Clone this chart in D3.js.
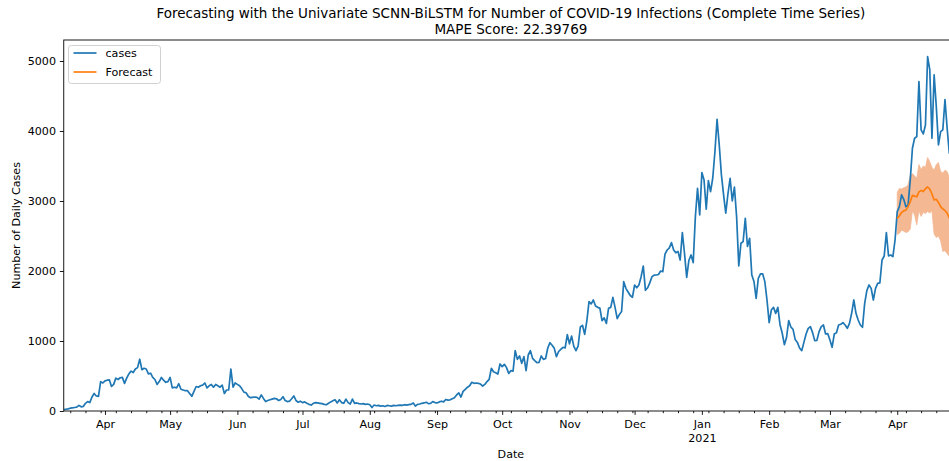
<!DOCTYPE html>
<html>
<head>
<meta charset="utf-8">
<script src="https://cdn.jsdelivr.net/npm/d3@7"></script>
<style>
  body { margin: 0; background: #fff; }
  svg text { font-family: "DejaVu Sans", sans-serif; fill: #000; }
</style>
</head>
<body>
<svg id="chart" width="949" height="461"></svg>
<script>
// ---- data -------------------------------------------------------------
const seriesStart = "2020-03-13";   // first day of the daily series
const seriesEnd = "2021-04-29";     // last day on the time axis

// daily confirmed cases, one value per day starting at seriesStart
const cases = [
  20, 25, 30, 40, 45, 50, 55, 80, 60, 65, 110, 135, 120, 200, 250, 215, 210, 420, 400, 430,
  440, 445, 350, 380, 470, 450, 475, 480, 395, 470, 530, 570, 550, 600, 620, 740, 590, 610, 600, 530,
  540, 480, 450, 380, 420, 480, 440, 410, 420, 480, 330, 340, 330, 390, 310, 300, 290, 290, 250, 210,
  280, 350, 340, 360, 370, 400, 330, 360, 380, 340, 380, 360, 340, 370, 250, 300, 300, 600, 340, 400,
  380, 360, 320, 270, 260, 210, 190, 195, 200, 195, 170, 230, 180, 135, 150, 160, 170, 180, 175, 150,
  165, 205, 150, 135, 140, 175, 215, 150, 125, 140, 120, 130, 110, 95, 85, 110, 120, 115, 110, 105,
  95, 90, 110, 130, 145, 160, 115, 160, 120, 110, 170, 120, 100, 170, 110, 115, 105, 100, 105, 95,
  100, 90, 50, 85, 75, 80, 70, 75, 65, 80, 75, 70, 80, 75, 80, 85, 80, 90, 85, 90,
  95, 115, 70, 95, 100, 110, 115, 125, 105, 110, 135, 120, 115, 130, 140, 130, 165, 155, 160, 175,
  190, 230, 260, 200, 280, 310, 340, 360, 410, 395, 400, 395, 385, 357, 380, 420, 452, 610, 560, 547,
  528, 672, 634, 667, 620, 538, 576, 570, 862, 738, 786, 681, 776, 576, 800, 862, 752, 720, 690, 695,
  786, 738, 750, 900, 976, 940, 895, 776, 850, 880, 910, 900, 1090, 960, 1070, 924, 862, 930, 1200, 1224,
  1095, 1286, 1562, 1530, 1586, 1500, 1481, 1470, 1291, 1330, 1252, 1467, 1480, 1624, 1480, 1319, 1380, 1420, 1848, 1752,
  1700, 1650, 1624, 1800, 1760, 1800, 1919, 2071, 1724, 1760, 1830, 1919, 1940, 1943, 1950, 2000, 1990, 2240, 2300, 2330,
  2405, 2300, 2260, 2280, 2157, 2548, 2250, 1910, 2150, 2229, 2120, 2777, 3182, 2801, 3406, 3300, 2882, 3292, 3134, 3325,
  3700, 4168, 3800, 3373, 3087, 2825, 3100, 3325, 3001, 3197, 2777, 2072, 2396, 2420, 2753, 2350, 2467, 1943, 1850, 1610,
  1896, 1958, 1960, 1848, 1586, 1262, 1443, 1481, 1395, 1480, 1233, 1114, 948, 1050, 1291, 1200, 1167, 1020, 980, 900,
  862, 980, 1100, 1181, 1205, 1120, 1005, 1010, 1134, 1205, 1229, 1100, 1105, 1014, 910, 1100, 1119, 1229, 1240, 1262,
  1229, 1181, 1252, 1396, 1586, 1396, 1300, 1229, 1196, 1538, 1719, 1800, 1752, 1586, 1752, 1824, 1830, 2157, 2214, 2548,
  2214, 2228, 2205, 2443, 2848, 2919, 3087, 3024, 2919, 2943, 3301, 3753, 3896, 3920, 4706, 4015, 3958, 4086, 5063, 4873,
  3896, 4801, 4349, 3801, 3991, 4015, 4450, 4039, 3682, 3750, 3850, 3700, 3650
];

const forecastStart = "2021-04-01";
// model forecast and its uncertainty band, daily from forecastStart
const forecast = [
  2750, 2790, 2835, 2860, 2870, 2920, 2990, 3080, 3070, 3060,
  3130, 3150, 3135, 3175, 3200, 3170, 3100, 3015, 3025, 2980,
  2920, 2885, 2865, 2825, 2760, 2700, 2680, 2660, 2650
];
const forecastUpper = [
  3120, 3180, 3170, 3190, 3200, 3230, 3360, 3390, 3360, 3320,
  3520, 3450, 3500, 3480, 3620, 3560, 3480, 3440, 3520, 3550,
  3420, 3400, 3440, 3420, 3330, 3280, 3250, 3240, 3220
];
const forecastLower = [
  2520, 2540, 2580, 2570, 2550, 2560, 2600, 2860, 2800, 2660,
  2860, 2780, 2840, 2820, 2850, 2830, 2860, 2530, 2480, 2500,
  2430, 2280, 2290, 2250, 2210, 2180, 2160, 2150, 2140
];

const yTicks = [0, 1000, 2000, 3000, 4000, 5000];
const titleLines = [
  "Forecasting with the Univariate SCNN-BiLSTM for Number of COVID-19 Infections (Complete Time Series)",
  "MAPE Score: 22.39769"
];
const legendLabels = ["cases", "Forecast"];
const xLabel = "Date";
const yLabel = "Number of Daily Cases";

// ---- layout -----------------------------------------------------------
const plot = { left: 63.75, right: 958, top: 40, bottom: 411 };
const colors = { cases: "#1f77b4", forecast: "#ff7f0e", band: "#f4b893" };
const fontSize = { title: 13.5, tick: 11.1, label: 11.1, legend: 11.1 };

const parse = d3.utcParse("%Y-%m-%d");
const t0 = parse(seriesStart), t1 = parse(seriesEnd), f0 = parse(forecastStart);
const caseRows = cases.map((v, i) => ({ date: d3.utcDay.offset(t0, i), value: v }));
const fcRows = forecast.map((v, i) => ({
  date: d3.utcDay.offset(f0, i), value: v, lo: forecastLower[i], hi: forecastUpper[i]
}));

const x = d3.scaleUtc().domain([t0, t1]).range([plot.left, plot.right]);
const y = d3.scaleLinear().domain([0, 5300]).range([plot.bottom, plot.top]);

const svg = d3.select("#chart");

svg.append("defs").append("clipPath").attr("id", "plot-clip")
  .append("rect")
  .attr("x", plot.left).attr("y", plot.top)
  .attr("width", plot.right - plot.left).attr("height", plot.bottom - plot.top);

const g = svg.append("g").attr("clip-path", "url(#plot-clip)");

// uncertainty band
g.append("path")
  .datum(fcRows)
  .attr("fill", colors.band)
  .attr("stroke", colors.band)
  .attr("stroke-width", 0.8)
  .attr("d", d3.area().x(d => x(d.date)).y0(d => y(d.lo)).y1(d => y(d.hi)));

// observed cases
g.append("path")
  .datum(caseRows)
  .attr("fill", "none")
  .attr("stroke", colors.cases)
  .attr("stroke-width", 1.7)
  .attr("stroke-linejoin", "round")
  .attr("d", d3.line().x(d => x(d.date)).y(d => y(d.value)));

// forecast
g.append("path")
  .datum(fcRows)
  .attr("fill", "none")
  .attr("stroke", colors.forecast)
  .attr("stroke-width", 1.7)
  .attr("stroke-linejoin", "round")
  .attr("d", d3.line().x(d => x(d.date)).y(d => y(d.value)));

// ---- axes -------------------------------------------------------------
const monthTicks = d3.utcMonth.range(d3.utcMonth.ceil(t0), t1);
const monthKeys = new Set(monthTicks.map(d => +d));
const weekTicks = d3.utcMonday.range(t0, t1).filter(d => !monthKeys.has(+d));

const xMinor = svg.append("g")
  .attr("transform", `translate(0,${plot.bottom})`)
  .call(d3.axisBottom(x).tickValues(weekTicks).tickSize(2.2).tickFormat(""));
xMinor.select(".domain").remove();

const xMajor = svg.append("g")
  .attr("transform", `translate(0,${plot.bottom})`)
  .call(d3.axisBottom(x).tickValues(monthTicks).tickSize(3.9).tickPadding(3.9)
    .tickFormat(d3.utcFormat("%b")));
xMajor.select(".domain").remove();
xMajor.selectAll(".tick text")
  .attr("font-size", fontSize.tick)
  .attr("y", 16.5).attr("dy", 0);
xMajor.selectAll(".tick")
  .filter(d => d.getUTCMonth() === 0)
  .append("text")
  .attr("y", 30.5)
  .attr("text-anchor", "middle")
  .attr("font-size", fontSize.tick)
  .text(d => d.getUTCFullYear());

const yAxis = svg.append("g")
  .attr("transform", `translate(${plot.left},0)`)
  .call(d3.axisLeft(y).tickValues(yTicks).tickSize(3.9).tickPadding(3.9).tickFormat(d3.format("d")));
yAxis.select(".domain").remove();
yAxis.selectAll(".tick text").attr("font-size", fontSize.tick);

svg.selectAll(".tick line").attr("stroke", "#000").attr("stroke-width", 0.9);

// frame
svg.append("rect")
  .attr("x", plot.left).attr("y", plot.top)
  .attr("width", plot.right - plot.left).attr("height", plot.bottom - plot.top)
  .attr("fill", "none").attr("stroke", "#000").attr("stroke-width", 0.9);

// ---- labels -----------------------------------------------------------
const cx = (plot.left + plot.right) / 2;
svg.append("g").selectAll("text")
  .data(titleLines)
  .join("text")
  .attr("x", cx)
  .attr("y", (d, i) => 18 + i * 15.5)
  .attr("text-anchor", "middle")
  .attr("font-size", fontSize.title)
  .text(d => d);

svg.append("text")
  .attr("x", cx).attr("y", 457.5)
  .attr("text-anchor", "middle").attr("font-size", fontSize.label)
  .text(xLabel);

svg.append("text")
  .attr("transform", `translate(20,${(plot.top + plot.bottom) / 2}) rotate(-90)`)
  .attr("text-anchor", "middle").attr("font-size", fontSize.label)
  .text(yLabel);

// ---- legend -----------------------------------------------------------
const legend = svg.append("g").attr("transform", "translate(68.5,45.5)");
legend.append("rect")
  .attr("width", 92).attr("height", 38).attr("rx", 2.8)
  .attr("fill", "#fff").attr("fill-opacity", 0.8)
  .attr("stroke", "#cccccc").attr("stroke-width", 0.9);
const legendColors = [colors.cases, colors.forecast];
const items = legend.selectAll("g.item")
  .data(legendLabels)
  .join("g").attr("class", "item")
  .attr("transform", (d, i) => `translate(0,${7.5 + i * 19})`);
items.append("line")
  .attr("x1", 5).attr("x2", 28)
  .attr("stroke", (d, i) => legendColors[i]).attr("stroke-width", 1.7);
items.append("text")
  .attr("x", 37).attr("y", 4)
  .attr("font-size", fontSize.legend)
  .text(d => d);
</script>
</body>
</html>
